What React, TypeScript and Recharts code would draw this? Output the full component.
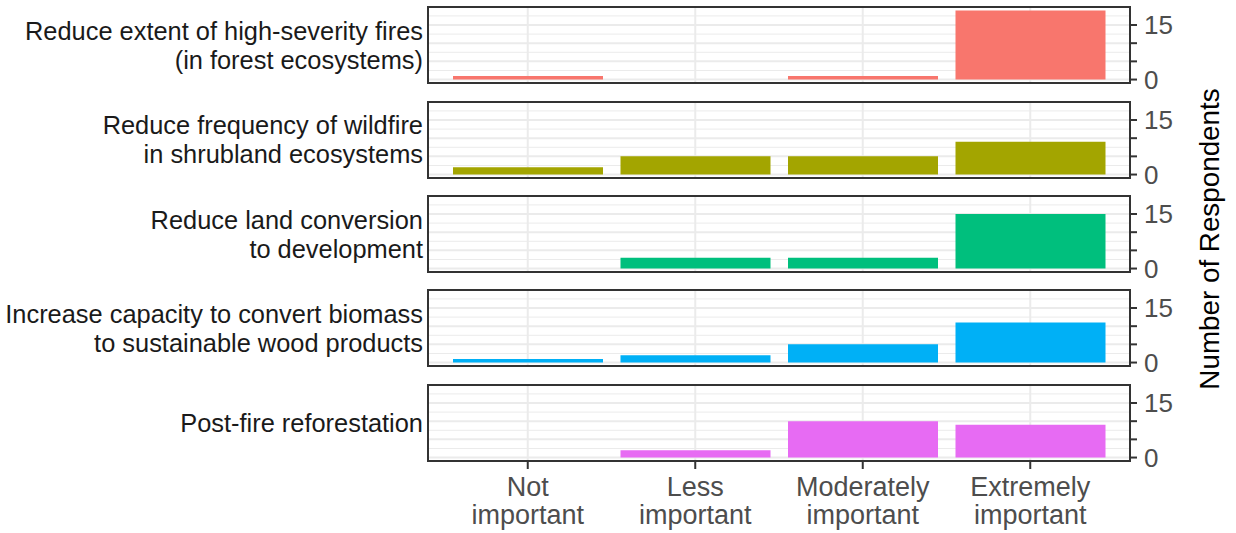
import React from "react";
import { BarChart, Bar, XAxis, YAxis, CartesianGrid } from "recharts";

// ---------- data ----------
const categories = ["Not important", "Less important", "Moderately important", "Extremely important"];
const categoryLines = [
  ["Not", "important"],
  ["Less", "important"],
  ["Moderately", "important"],
  ["Extremely", "important"],
];
const goalLabels = [
  ["Reduce extent of high-severity fires", "(in forest ecosystems)"],
  ["Reduce frequency of wildfire", "in shrubland ecosystems"],
  ["Reduce land conversion", "to development"],
  ["Increase capacity to convert biomass", "to sustainable wood products"],
  ["Post-fire reforestation"],
];
const highSeverityFires = [1, 0, 1, 19];
const shrublandWildfire = [2, 5, 5, 9];
const landConversion = [0, 3, 3, 15];
const biomassCapacity = [1, 2, 5, 11];
const postFireReforestation = [0, 2, 10, 9];
const goalCounts = [highSeverityFires, shrublandWildfire, landConversion, biomassCapacity, postFireReforestation];
const goalColors = ["#F8766D", "#A3A500", "#00BF7D", "#00B0F6", "#E76BF3"];
const yTicks = [0, 5, 10, 15];
const yLabelledTicks = [0, 15];
const minorGridValues = [2.5, 7.5, 12.5, 17.5];
const yDomain: [number, number] = [-0.95, 19.95];
const yTitle = "Number of Respondents";

// ---------- layout ----------
const W = 1236;
const H = 533;
const PLOT_LEFT = 428;
const PLOT_RIGHT = 1130;
const PANEL_H = 76;
const FIRST_TOP = 7.3;
const PANEL_STEP = 94.35;
const PAD = 18;
const Y_AXIS_W = 70;
const X_AXIS_H = 72;
const FONT = "'Liberation Sans', Arial, Helvetica, sans-serif";

const CategoryTick = (props: any) => {
  const { x, y, payload } = props;
  const idx = categories.indexOf(payload.value);
  const lines = idx >= 0 ? categoryLines[idx] : [String(payload.value)];
  return (
    <text x={x} y={y} textAnchor="middle" fill="#4d4d4d" fontSize={27} fontFamily={FONT}>
      {lines.map((l, i) => (
        <tspan key={i} x={x} dy={i === 0 ? 27.2 : 27.6}>
          {l}
        </tspan>
      ))}
    </text>
  );
};

const EmptyTick = () => <g />;

function Panel({ index }: { index: number }) {
  const top = FIRST_TOP + index * PANEL_STEP;
  const isLast = index === goalCounts.length - 1;
  const data = categories.map((c, i) => ({ category: c, count: goalCounts[index][i] }));
  const height = PANEL_H + PAD + (isLast ? X_AXIS_H : PAD);
  return (
    <div style={{ position: "absolute", left: 0, top: top - PAD, width: W, height }}>
      <BarChart
        width={W}
        height={height}
        data={data}
        margin={{ top: PAD, bottom: isLast ? 0 : PAD, left: PLOT_LEFT, right: W - PLOT_RIGHT - Y_AXIS_W }}
      >
        <CartesianGrid
          horizontalValues={minorGridValues}
          vertical={false}
          stroke="#ebebeb"
          strokeWidth={1}
          strokeDasharray=""
        />
        <CartesianGrid
          horizontalValues={yTicks}
          stroke="#ebebeb"
          strokeWidth={2}
          strokeDasharray=""
        />
        <XAxis
          dataKey="category"
          type="category"
          padding={{ left: 16, right: 16 }}
          height={isLast ? X_AXIS_H : 0}
          axisLine={false}
          tickLine={isLast ? { stroke: "#333333", strokeWidth: 2 } : false}
          tickSize={isLast ? 8 : 0}
          tickMargin={0}
          tick={isLast ? <CategoryTick /> : <EmptyTick />}
          interval={0}
        />
        <YAxis
          orientation="right"
          type="number"
          domain={yDomain}
          allowDataOverflow
          ticks={yTicks}
          interval={0}
          width={Y_AXIS_W}
          axisLine={false}
          tickLine={{ stroke: "#333333", strokeWidth: 2 }}
          tickSize={7}
          tickMargin={7}
          tickFormatter={(v: number) => (yLabelledTicks.includes(v) ? String(v) : "")}
          tick={{ fill: "#4d4d4d", fontSize: 26, fontFamily: FONT }}
        />
        <Bar dataKey="count" fill={goalColors[index]} barSize={150} isAnimationActive={false} />
      </BarChart>
    </div>
  );
}

export default function App() {
  return (
    <div
      style={{
        position: "absolute",
        left: 0,
        top: 0,
        width: W,
        height: H,
        background: "#ffffff",
        fontFamily: FONT,
        overflow: "hidden",
      }}
    >
      {goalCounts.map((_, i) => (
        <Panel key={i} index={i} />
      ))}
      {goalCounts.map((_, i) => (
        <div
          key={"b" + i}
          style={{
            position: "absolute",
            left: PLOT_LEFT - 1,
            top: FIRST_TOP + i * PANEL_STEP - 1,
            width: PLOT_RIGHT - PLOT_LEFT + 2,
            height: PANEL_H + 2,
            border: "2px solid #333333",
            boxSizing: "border-box",
            pointerEvents: "none",
          }}
        />
      ))}
      <svg
        width={W}
        height={H}
        style={{ position: "absolute", left: 0, top: 0, pointerEvents: "none" }}
      >
        {goalLabels.map((lines, i) => {
          const center = FIRST_TOP + i * PANEL_STEP + PANEL_H / 2;
          return (
            <text key={i} x={423} textAnchor="end" fill="#1a1a1a" fontSize={25.4} fontFamily={FONT}>
              {lines.length === 1 ? (
                <tspan x={423} y={center + 9}>
                  {lines[0]}
                </tspan>
              ) : (
                lines.map((l, j) => (
                  <tspan key={j} x={423} y={center - 5.5 + j * 29}>
                    {l}
                  </tspan>
                ))
              )}
            </text>
          );
        })}
        <text
          transform="translate(1219, 239) rotate(-90)"
          textAnchor="middle"
          fill="#000000"
          fontSize={27.8}
          fontFamily={FONT}
        >
          {yTitle}
        </text>
      </svg>
    </div>
  );
}
